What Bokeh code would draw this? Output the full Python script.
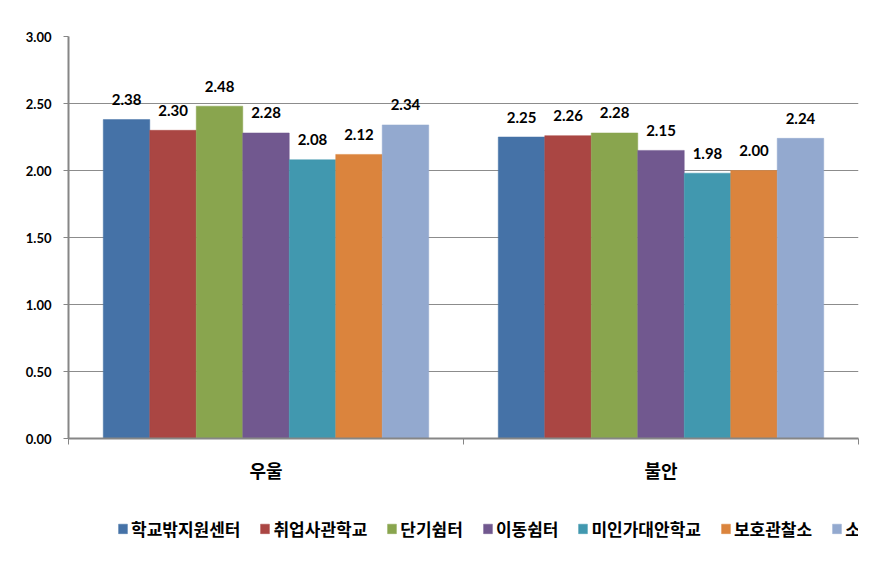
from bokeh.plotting import figure
from bokeh.layouts import column
from bokeh.models import (ColumnDataSource, Range1d, FixedTicker, NumeralTickFormatter,
                          Legend, LegendItem)
from bokeh.transform import dodge
from bokeh.core.properties import value
from bokeh.embed import file_html
from bokeh.resources import INLINE

categories = ["우울", "불안"]
series_names = ["학교밖지원센터", "취업사관학교", "단기쉼터", "이동쉼터", "미인가대안학교", "보호관찰소", "소년원"]
series_values = [
    [2.38, 2.25],
    [2.30, 2.26],
    [2.48, 2.28],
    [2.28, 2.15],
    [2.08, 1.98],
    [2.12, 2.00],
    [2.34, 2.24],
]
colors = ["#4572A7", "#AA4643", "#89A54E", "#71588F", "#4198AF", "#DB843D", "#93A9CF"]
y_ticks = [0, 0.5, 1.0, 1.5, 2.0, 2.5, 3.0]

KFONT = "Noto Sans CJK KR"
NFONT = "Lato"

p = figure(frame_width=790, frame_height=402, output_backend="svg", toolbar_location=None,
           x_range=Range1d(0, len(categories)), y_range=Range1d(0, 3),
           min_border_left=68, min_border_right=22, min_border_top=36, min_border_bottom=62)
p.outline_line_color = None
p.background_fill_color = "white"

# legend strip below the chart (its own figure; its renderers are hidden, only the legend shows)
lf = figure(width=880, height=56, output_backend="svg", toolbar_location=None,
            x_axis_type=None, y_axis_type=None, min_border=0,
            x_range=Range1d(0, len(categories)), y_range=Range1d(0, 3))
lf.outline_line_color = None
lf.xgrid.grid_line_color = None
lf.ygrid.grid_line_color = None

centers = [i + 0.5 for i in range(len(categories))]
bw = 0.1177
items = []
for i, (name, vals, col) in enumerate(zip(series_names, series_values, colors)):
    src = ColumnDataSource(dict(x=centers, top=vals, lab=["%.2f" % v for v in vals]))
    off = (i - 3) * bw
    p.vbar(x=dodge("x", off), top="top", width=bw, source=src,
           fill_color=col, line_color=col, line_width=0.5)
    p.text(x=dodge("x", off), y="top", text="lab", source=src, y_offset=-20,
           text_align="center", text_baseline="alphabetic", text_font=value(NFONT),
           text_font_style="bold", text_font_size="15px", text_color="black")
    r = lf.vbar(x=dodge("x", off), top="top", width=bw, source=src,
                fill_color=col, line_color=col, line_width=0.5)
    r.visible = False
    items.append(LegendItem(label=name, renderers=[r]))

# axes
xa = p.xaxis[0]
xa.ticker = FixedTicker(ticks=centers, minor_ticks=list(range(len(categories) + 1)))
xa.major_label_overrides = {c: lab for c, lab in zip(centers, categories)}
xa.major_tick_out = 0
xa.major_tick_in = 0
xa.minor_tick_out = 6
xa.minor_tick_in = 0
xa.minor_tick_line_color = "#868686"
xa.axis_line_color = "#868686"
xa.axis_line_width = 2
xa.major_label_standoff = 12
xa.major_label_text_font = KFONT
xa.major_label_text_font_style = "bold"
xa.major_label_text_font_size = "18px"
xa.major_label_text_color = "black"

ya = p.yaxis[0]
ya.ticker = FixedTicker(ticks=y_ticks)
ya.formatter = NumeralTickFormatter(format="0.00")
ya.major_tick_out = 5
ya.major_tick_in = 0
ya.minor_tick_line_color = None
ya.major_tick_line_color = "#868686"
ya.axis_line_color = "#868686"
ya.axis_line_width = 2
ya.major_label_standoff = 12
ya.major_label_text_font = NFONT
ya.major_label_text_font_style = "bold"
ya.major_label_text_font_size = "13px"
ya.major_label_text_color = "black"

p.xgrid.grid_line_color = None
p.ygrid.grid_line_color = "#8C8C8C"
p.ygrid.grid_line_width = 1

legend = Legend(items=items, orientation="horizontal", location="left",
                label_text_font=KFONT, label_text_font_style="bold",
                label_text_font_size="17px", label_text_color="black",
                glyph_width=11, glyph_height=12, label_standoff=3, spacing=19,
                border_line_color=None, background_fill_alpha=0,
                inactive_fill_alpha=0, click_policy="none",
                padding=0, margin=49)
lf.add_layout(legend, "center")

layout = column(p, lf, spacing=0)
open("out.html", "w").write(file_html(layout, INLINE))
